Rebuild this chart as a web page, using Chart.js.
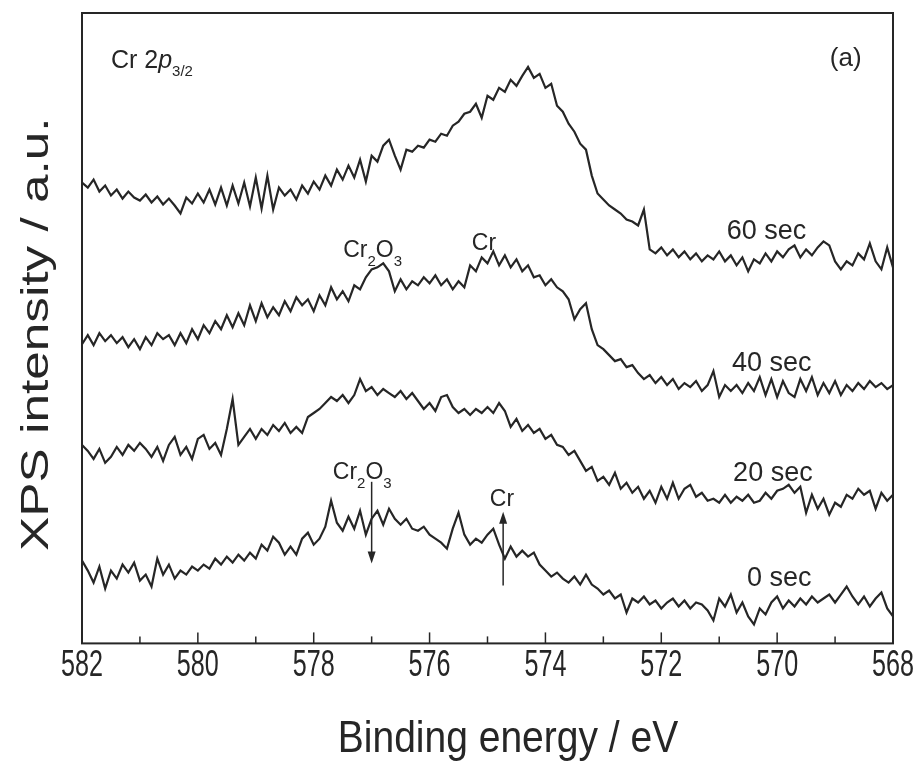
<!DOCTYPE html>
<html>
<head>
<meta charset="utf-8">
<script src="https://cdn.jsdelivr.net/npm/chart.js@4.4.1/dist/chart.umd.min.js"></script>
<style>
  html, body { margin: 0; padding: 0; background: #fff; }
  canvas { display: block; }
</style>
</head>
<body>
<canvas id="xpsChart" width="924" height="769"></canvas>
<script>
// binding energy grid (eV), 582 -> 568
const energy = [
  582.0, 581.9, 581.8, 581.7, 581.6, 581.5, 581.4, 581.3, 581.2, 581.1,
  581.0, 580.9, 580.8, 580.7, 580.6, 580.5, 580.4, 580.3, 580.2, 580.1,
  580.0, 579.9, 579.8, 579.7, 579.6, 579.5, 579.4, 579.3, 579.2, 579.1,
  579.0, 578.9, 578.8, 578.7, 578.6, 578.5, 578.4, 578.3, 578.2, 578.1,
  578.0, 577.9, 577.8, 577.7, 577.6, 577.5, 577.4, 577.3, 577.2, 577.1,
  577.0, 576.9, 576.8, 576.7, 576.6, 576.5, 576.4, 576.3, 576.2, 576.1,
  576.0, 575.9, 575.8, 575.7, 575.6, 575.5, 575.4, 575.3, 575.2, 575.1,
  575.0, 574.9, 574.8, 574.7, 574.6, 574.5, 574.4, 574.3, 574.2, 574.1,
  574.0, 573.9, 573.8, 573.7, 573.6, 573.5, 573.4, 573.3, 573.2, 573.1,
  573.0, 572.9, 572.8, 572.7, 572.6, 572.5, 572.4, 572.3, 572.2, 572.1,
  572.0, 571.9, 571.8, 571.7, 571.6, 571.5, 571.4, 571.3, 571.2, 571.1,
  571.0, 570.9, 570.8, 570.7, 570.6, 570.5, 570.4, 570.3, 570.2, 570.1,
  570.0, 569.9, 569.8, 569.7, 569.6, 569.5, 569.4, 569.3, 569.2, 569.1,
  569.0, 568.9, 568.8, 568.7, 568.6, 568.5, 568.4, 568.3, 568.2, 568.1,
  568.0
];

// intensities (a.u., stacked spectra as plotted)
const sec60 = [
  462, 457, 465, 453, 459, 449, 455, 446, 453, 447,
  444, 450, 442, 448, 440, 446, 439, 431, 447, 441,
  451, 442, 455, 440, 457, 439, 459, 441, 462, 438,
  467, 436, 469, 435, 457, 449, 455, 445, 459, 451,
  463, 455, 469, 459, 475, 465, 479, 467, 485, 463,
  489, 483, 499, 505, 489, 475, 495, 493, 499, 497,
  505, 503, 511, 509, 519, 523, 531, 533, 541, 527,
  549, 545, 557, 553, 565, 559, 569, 578, 567, 571,
  557, 561, 539, 533, 521, 513, 501, 495, 469, 451,
  445, 439, 435, 431, 425, 423, 419, 435, 395, 391,
  397, 389, 395, 387, 393, 385, 391, 383, 389, 385,
  393, 383, 389, 379, 387, 373, 385, 381, 391, 383,
  393, 387, 395, 399, 387, 395, 389, 397, 403, 399,
  383, 375, 383, 379, 391, 385, 401, 383, 375, 397,
  377
];

const sec40 = [
  300, 309, 299, 311, 303, 309, 301, 307, 297, 305,
  295, 307, 299, 311, 305, 309, 299, 311, 301, 315,
  305, 319, 311, 323, 315, 329, 317, 331, 319, 339,
  323, 341, 327, 337, 329, 343, 333, 347, 339, 345,
  333, 349, 339, 357, 345, 353, 343, 359, 355, 367,
  375, 377, 381, 373, 353, 365, 355, 363, 359, 367,
  361, 369, 359, 365, 355, 363, 357, 379, 373, 387,
  381, 393, 379, 389, 377, 385, 373, 379, 367, 369,
  359, 365, 357, 353, 345, 325, 335, 341, 315, 299,
  295, 289, 283, 285, 277, 279, 271, 265, 269, 261,
  267, 259, 265, 255, 261, 257, 263, 253, 259, 273,
  247, 259, 253, 259, 251, 261, 253, 267, 249, 265,
  247, 263, 251, 247, 265, 253, 267, 249, 261, 251,
  263, 249, 259, 253, 261, 255, 263, 257, 261, 255,
  259
];

const sec20 = [
  199, 193, 185, 195, 181, 187, 197, 189, 199, 193,
  201, 195, 187, 197, 183, 199, 207, 189, 197, 185,
  205, 209, 195, 201, 189, 215, 245, 199, 207, 215,
  205, 215, 209, 219, 213, 221, 211, 217, 211, 227,
  231, 235, 241, 247, 243, 249, 241, 249, 265, 253,
  257, 249, 255, 251, 247, 253, 245, 251, 243, 235,
  241, 233, 247, 249, 237, 231, 235, 229, 235, 231,
  237, 231, 241, 233, 217, 225, 213, 219, 211, 215,
  205, 209, 199, 197, 189, 193, 183, 173, 177, 163,
  167, 159, 171, 155, 161, 151, 157, 145, 153, 141,
  157, 145, 161, 145, 155, 159, 147, 151, 143, 145,
  141, 149, 141, 147, 143, 149, 141, 143, 151, 145,
  153, 155, 159, 151, 157, 131, 149, 135, 145, 129,
  141, 137, 149, 145, 155, 149, 153, 135, 151, 143,
  149
];

const sec0 = [
  83, 73, 61, 77, 55, 73, 65, 79, 71, 81,
  63, 69, 57, 85, 69, 79, 65, 73, 69, 77,
  73, 79, 75, 85, 79, 87, 81, 89, 83, 91,
  85, 99, 93, 107, 101, 89, 97, 89, 105, 111,
  99, 105, 117, 143, 121, 113, 127, 115, 133, 109,
  125, 133, 119, 135, 125, 119, 125, 115, 113, 117,
  109, 105, 101, 95, 115, 131, 109, 99, 105, 101,
  109, 115, 99, 85, 97, 87, 93, 87, 91, 79,
  73, 67, 71, 65, 61, 67, 59, 69, 59, 55,
  49, 53, 45, 49, 31, 45, 41, 47, 39, 43,
  35, 41, 45, 37, 43, 35, 41, 39, 33, 23,
  45, 37, 49, 31, 41, 27, 19, 35, 29, 41,
  47, 35, 43, 37, 45, 39, 47, 41, 45, 49,
  41, 49, 57, 47, 39, 47, 37, 45, 51, 35,
  27
];

const seriesNames = ['0 sec', '20 sec', '40 sec', '60 sec'];
const seriesValues = [sec0, sec20, sec40, sec60];

const FONT = "'Liberation Sans', Arial, sans-serif";
const INK = '#262626';

// annotation anchors in data space [energy, intensity]
const curveLabels = [
  { text: '60 sec', at: [570.87, 405] },
  { text: '40 sec', at: [570.78, 273] },
  { text: '20 sec', at: [570.76, 163] },
  { text: '0 sec', at: [570.52, 58] }
];
const peakLabels = [
  { parts: [['Cr', 0], ['2', 1], ['O', 0], ['3', 1]], at: [577.49, 387] },
  { parts: [['Cr', 0]], at: [575.27, 394] },
  { parts: [['Cr', 0], ['2', 1], ['O', 0], ['3', 1]], at: [577.67, 165] },
  { parts: [['Cr', 0]], at: [574.96, 138] }
];
// arrows: energy, tail intensity, tip intensity
const arrows = [
  [577.0, 162, 80],
  [574.73, 58, 132]
];

function chem(ctx, parts, x, y) {
  let cx = x;
  parts.forEach(([s, sub]) => {
    ctx.font = (sub ? 15 : 23) + 'px ' + FONT;
    ctx.fillText(s, cx, sub ? y + 9 : y);
    cx += ctx.measureText(s).width;
  });
}

const decor = {
  id: 'decor',
  afterDatasetsDraw(chart) {
    const { ctx, chartArea: a, scales: { x, y } } = chart;
    ctx.save();
    ctx.strokeStyle = INK;
    ctx.fillStyle = INK;
    ctx.lineWidth = 2;
    ctx.strokeRect(a.left, a.top, a.right - a.left, a.bottom - a.top);

    // inward tick marks + condensed tick labels from the scale's ticks
    ctx.lineWidth = 1.5;
    x.ticks.forEach(t => {
      const px = x.getPixelForValue(t.value);
      const major = t.value % 2 === 0;
      ctx.beginPath();
      ctx.moveTo(px, a.bottom);
      ctx.lineTo(px, a.bottom - (major ? 11 : 7));
      ctx.stroke();
      if (major) {
        ctx.save();
        ctx.translate(px, a.bottom + 33);
        ctx.scale(0.68, 1);
        ctx.font = '37px ' + FONT;
        ctx.textAlign = 'center';
        ctx.fillText(String(t.value), 0, 0);
        ctx.restore();
      }
    });

    ctx.textBaseline = 'alphabetic';
    ctx.textAlign = 'left';

    // panel labels
    const ox = x.getPixelForValue(581.5), oy = y.getPixelForValue(577);
    ctx.font = '25px ' + FONT;
    ctx.fillText('Cr 2', ox, oy);
    let w = ctx.measureText('Cr 2').width;
    ctx.font = 'italic 25px ' + FONT;
    ctx.fillText('p', ox + w, oy);
    w += ctx.measureText('p').width;
    ctx.font = '15px ' + FONT;
    ctx.fillText('3/2', ox + w, oy + 8);

    ctx.font = '26px ' + FONT;
    ctx.fillText('(a)', x.getPixelForValue(569.09), y.getPixelForValue(579));

    curveLabels.forEach(l => {
      ctx.font = '27px ' + FONT;
      ctx.fillText(l.text, x.getPixelForValue(l.at[0]), y.getPixelForValue(l.at[1]));
    });

    peakLabels.forEach(l => {
      chem(ctx, l.parts, x.getPixelForValue(l.at[0]), y.getPixelForValue(l.at[1]));
    });

    ctx.lineWidth = 1.5;
    arrows.forEach(([e, from, to]) => {
      const px = x.getPixelForValue(e);
      const y0 = y.getPixelForValue(from), y1 = y.getPixelForValue(to);
      const dir = y1 > y0 ? 1 : -1;
      ctx.beginPath();
      ctx.moveTo(px, y0);
      ctx.lineTo(px, y1 - dir * 10);
      ctx.stroke();
      ctx.beginPath();
      ctx.moveTo(px, y1);
      ctx.lineTo(px - 4, y1 - dir * 12);
      ctx.lineTo(px + 4, y1 - dir * 12);
      ctx.closePath();
      ctx.fill();
    });

    // axis titles
    ctx.save();
    ctx.translate(508, 752);
    ctx.scale(1, 1.15);
    ctx.font = '39px ' + FONT;
    ctx.textAlign = 'center';
    ctx.fillText('Binding energy / eV', 0, 0);
    ctx.restore();

    ctx.save();
    ctx.translate(48, (a.top + a.bottom) / 2 + 6);
    ctx.rotate(-Math.PI / 2);
    ctx.scale(1.35, 1);
    ctx.font = '38px ' + FONT;
    ctx.textAlign = 'center';
    ctx.fillText('XPS intensity / a.u.', 0, 0);
    ctx.restore();

    ctx.restore();
  }
};

new Chart(document.getElementById('xpsChart').getContext('2d'), {
  type: 'line',
  data: {
    datasets: seriesValues.map((vals, i) => ({
      label: seriesNames[i],
      data: energy.map((e, j) => ({ x: e, y: vals[j] })),
      borderColor: INK,
      borderWidth: 2.2,
      pointRadius: 0,
      tension: 0,
      fill: false
    }))
  },
  options: {
    responsive: false,
    animation: false,
    layout: { padding: { left: 82, right: 31, top: 13, bottom: 82 } },
    plugins: { legend: { display: false }, tooltip: { enabled: false } },
    scales: {
      x: {
        type: 'linear',
        reverse: true,
        min: 568,
        max: 582,
        grid: { display: false, drawTicks: false },
        border: { display: false },
        ticks: {
          stepSize: 1,
          autoSkip: false,
          maxRotation: 0,
          padding: 2,
          color: 'rgba(0,0,0,0)',
          font: { family: FONT, size: 33 },
          callback: v => (v % 2 === 0 ? String(v) : '')
        }
      },
      y: { display: false, min: 0, max: 632 }
    }
  },
  plugins: [decor]
});
</script>
</body>
</html>
